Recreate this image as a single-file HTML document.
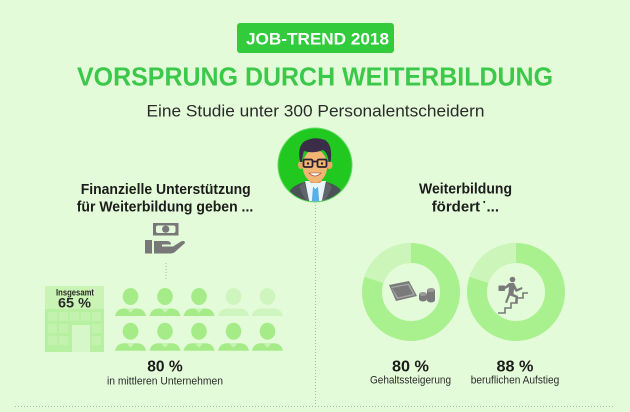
<!DOCTYPE html>
<html><head><meta charset="utf-8"><style>
html,body{margin:0;padding:0;background:#e4fbd9;}
svg{display:block;}
text{font-family:"Liberation Sans",sans-serif;}
</style></head><body>
<svg width="630" height="412" viewBox="0 0 630 412" xmlns="http://www.w3.org/2000/svg">
<rect width="630" height="412" fill="#e4fbd9"/>

<!-- Badge -->
<rect x="237" y="23" width="157" height="30" rx="3" fill="#31cb3c"/>
<text x="317.5" y="44.3" text-anchor="middle" font-size="16.5" font-weight="bold" fill="#ffffff" textLength="143" lengthAdjust="spacingAndGlyphs">JOB-TREND 2018</text>

<!-- Title -->
<text x="315" y="85.5" text-anchor="middle" font-size="25.5" font-weight="bold" fill="#3cc84a" textLength="476" lengthAdjust="spacingAndGlyphs">VORSPRUNG DURCH WEITERBILDUNG</text>

<!-- Subtitle -->
<text x="315.5" y="116.5" text-anchor="middle" font-size="17" fill="#2a2a2a" textLength="338" lengthAdjust="spacingAndGlyphs">Eine Studie unter 300 Personalentscheidern</text>

<!-- Dotted lines -->
<g stroke="#a3bfa0" stroke-width="1" stroke-dasharray="1 2" fill="none">
<line x1="315.5" y1="205" x2="315.5" y2="406"/>
<line x1="15" y1="406.5" x2="615" y2="406.5"/>
<line x1="166" y1="263" x2="166" y2="279"/>
</g>

<!-- Avatar -->
<defs><clipPath id="av"><circle cx="315" cy="165" r="36.5"/></clipPath></defs>
<circle cx="315" cy="165" r="37.5" fill="#5fdc5f"/>
<circle cx="315" cy="165" r="36.5" fill="#20c820"/>
<g clip-path="url(#av)">
<path d="M287 205 L290 191 Q292 186 304 182 L327 182 Q339 186 341 191 L344 205 Z" fill="#4b5157"/>
<path d="M304 182 L311 203 L307 203 L299 187 Z" fill="#5e666c"/>
<path d="M327 182 L320 203 L324 203 L332 187 Z" fill="#5e666c"/>
<polygon points="305,181 326,181 321,205 310,205" fill="#e9f5fb"/>
<polygon points="313,187 318,187 319.5,205 311.5,205" fill="#59aee8"/>
<rect x="309" y="175" width="13" height="8" fill="#dc9a5c"/>
<polygon points="309,181 315.5,187 322,181 322,183 315.5,189 309,183" fill="#e9f5fb"/>
<ellipse cx="301" cy="165" rx="3" ry="4" fill="#e9a866"/>
<ellipse cx="329.5" cy="165" rx="3" ry="4" fill="#e9a866"/>
<ellipse cx="315" cy="166" rx="12.3" ry="16.5" fill="#f2b574"/>
<path d="M300 162 Q297 146 305 141 Q315 136 325 140 Q333 145 330.5 162 L328.5 162 Q328 153 323 150 Q313 154 304 151 Q302.5 155 302 162 Z" fill="#3a2d48"/>
<g fill="none" stroke="#2a2230" stroke-width="1.8">
<rect x="303.5" y="159.5" width="9" height="7.5" rx="1.5"/>
<rect x="317.5" y="159.5" width="9" height="7.5" rx="1.5"/>
<line x1="312.5" y1="161.5" x2="317.5" y2="161.5"/>
</g>
<circle cx="308" cy="163.5" r="1.2" fill="#2a2230"/>
<circle cx="322" cy="163.5" r="1.2" fill="#2a2230"/>
<path d="M309 173 Q315 179 321 173 Z" fill="#ffffff" stroke="#8a4a30" stroke-width="0.6"/>
</g>

<!-- Left heading -->
<text x="165.7" y="194" text-anchor="middle" font-size="15" font-weight="bold" fill="#1c1c1c" textLength="170" lengthAdjust="spacingAndGlyphs">Finanzielle Unterstützung</text>
<text x="165" y="211.7" text-anchor="middle" font-size="15" font-weight="bold" fill="#1c1c1c" textLength="176.5" lengthAdjust="spacingAndGlyphs">für Weiterbildung geben ...</text>

<!-- Right heading -->
<text x="465.5" y="193.3" text-anchor="middle" font-size="15" font-weight="bold" fill="#1c1c1c" textLength="93" lengthAdjust="spacingAndGlyphs">Weiterbildung</text>
<text x="431.7" y="211.7" font-size="15" font-weight="bold" fill="#1c1c1c">fördert<tspan font-size="7" dy="-7" dx="3">•</tspan><tspan dy="7" dx="1">...</tspan></text>

<!-- Money hand icon -->
<g fill="#787878">
<rect x="153" y="223" width="25.5" height="12.5"/>
<rect x="156" y="225.5" width="19.5" height="7.5" rx="2" fill="#e4fbd9"/>
<circle cx="165.7" cy="229.2" r="3.6"/>
<rect x="145" y="240" width="7" height="13.5"/>
<path d="M154 241 L167 241 Q171 241 171 244.5 L162 244.5 L162 246.5 L173 246.5 L181 241.5 Q185 240 185 243 L176 251 Q174 253.5 170 253.5 L154 253.5 Z"/>
</g>

<!-- Building -->
<rect x="45" y="286" width="59" height="66" fill="#b8f0a2"/>
<rect x="45" y="286" width="59" height="23" fill="#c9f4b6"/>
<g fill="#c3f2ae">
<rect x="48" y="312" width="9" height="9"/><rect x="59" y="312" width="9" height="9"/><rect x="70" y="312" width="9" height="9"/><rect x="81" y="312" width="9" height="9"/><rect x="92" y="312" width="9" height="9"/>
<rect x="48" y="324" width="9" height="9"/><rect x="59" y="324" width="9" height="9"/><rect x="92" y="324" width="9" height="9"/>
<rect x="48" y="336" width="9" height="9"/><rect x="59" y="336" width="9" height="9"/><rect x="92" y="336" width="9" height="9"/>
</g>
<rect x="72" y="325" width="18" height="27" fill="#d6f8c8"/>
<text x="75" y="295.5" text-anchor="middle" font-size="9" font-weight="bold" fill="#2a2a2a" textLength="38" lengthAdjust="spacingAndGlyphs">Insgesamt</text>
<text x="74.5" y="307.5" text-anchor="middle" font-size="14" font-weight="bold" fill="#2a2a2a" textLength="33" lengthAdjust="spacingAndGlyphs">65 %</text>

<!-- People -->
<defs>
<g id="p">
<ellipse cx="0" cy="0" rx="7.8" ry="8.5"/>
<path d="M-15.5 19.5 Q-14 12.5 -7 12 L7 12 Q14 12.5 15.5 19.5 Z"/>
</g>
</defs>
<g fill="#a5ec88">
<use href="#p" x="130.5" y="296.5"/>
<use href="#p" x="165" y="296.5"/>
<use href="#p" x="199" y="296.5"/>
<use href="#p" x="130.5" y="331.3"/>
<use href="#p" x="165" y="331.3"/>
<use href="#p" x="199" y="331.3"/>
<use href="#p" x="233.5" y="331.3"/>
<use href="#p" x="267.5" y="331.3"/>
</g>
<g fill="#cff5bf">
<use href="#p" x="233.5" y="296.5"/>
<use href="#p" x="267.5" y="296.5"/>
</g>
<g fill="#c8f3b4">
<polygon points="126.5,308.5 134.5,308.5 130.5,313"/><polygon points="161,308.5 169,308.5 165,313"/><polygon points="195,308.5 203,308.5 199,313"/>
<polygon points="126.5,343.3 134.5,343.3 130.5,347.8"/><polygon points="161,343.3 169,343.3 165,347.8"/><polygon points="195,343.3 203,343.3 199,347.8"/><polygon points="229.5,343.3 237.5,343.3 233.5,347.8"/><polygon points="263.5,343.3 271.5,343.3 267.5,347.8"/>
</g>

<!-- Left labels -->
<text x="165" y="371.7" text-anchor="middle" font-size="15.5" font-weight="bold" fill="#1c1c1c" textLength="35.5" lengthAdjust="spacingAndGlyphs">80 %</text>
<text x="165" y="384.4" text-anchor="middle" font-size="11" fill="#2a2a2a" textLength="116" lengthAdjust="spacingAndGlyphs">in mittleren Unternehmen</text>

<!-- Donuts -->
<circle cx="411" cy="292" r="39" fill="none" stroke="#a9f08e" stroke-width="20"/>
<path d="M411 253 A39 39 0 0 0 373.9 279.95" fill="none" stroke="#ccf5ba" stroke-width="20"/>
<circle cx="516" cy="292" r="39" fill="none" stroke="#a9f08e" stroke-width="20"/>
<path d="M516 253 A39 39 0 0 0 478.9 279.95" fill="none" stroke="#ccf5ba" stroke-width="20"/>

<!-- Money icon -->
<g fill="#7a7a7a">
<polygon points="389,285 409,281 417,296 396,301"/>
<polygon points="391,287 409,283.5 415,295 397,299" fill="#a8a8a8"/>
<polygon points="392,288 408,285 413,294 398,297.5"/>
<ellipse cx="423" cy="299" rx="4" ry="2.5"/>
<rect x="419" y="294" width="8" height="5"/>
<ellipse cx="423" cy="294" rx="4" ry="2" fill="#9a9a9a"/>
<ellipse cx="431" cy="300" rx="4" ry="2.5"/>
<rect x="427" y="290" width="8" height="10"/>
<ellipse cx="431" cy="290" rx="4" ry="2" fill="#9a9a9a"/>
</g>

<!-- Stair icon -->
<polyline points="498,313 505,313 505,308 511,308 511,303 517,303 517,298 523,298 523,293 528,293" fill="none" stroke="#7a7a7a" stroke-width="1.6"/>
<g fill="#7a7a7a">
<circle cx="512.5" cy="279.5" r="2.8"/>
<path d="M509 283 L514 283 L517 289 L522 287 L522.5 289 L516 292 L514 289 L513.5 294 L518 296 L517 303 L515 303 L515.5 297.5 L510 295.5 L507 303 L505 302.5 L508.5 293 L509 287 L505 289 L504 287.5 Z"/>
<rect x="498.5" y="285.5" width="6.5" height="5.5" rx="0.8"/>
</g>

<!-- Right labels -->
<text x="410.5" y="371.7" text-anchor="middle" font-size="15.5" font-weight="bold" fill="#1c1c1c" textLength="37" lengthAdjust="spacingAndGlyphs">80 %</text>
<text x="410.5" y="383.5" text-anchor="middle" font-size="11" fill="#2a2a2a" textLength="81" lengthAdjust="spacingAndGlyphs">Gehaltssteigerung</text>
<text x="515" y="371.7" text-anchor="middle" font-size="15.5" font-weight="bold" fill="#1c1c1c" textLength="37" lengthAdjust="spacingAndGlyphs">88 %</text>
<text x="515" y="383.5" text-anchor="middle" font-size="11" fill="#2a2a2a" textLength="88.5" lengthAdjust="spacingAndGlyphs">beruflichen Aufstieg</text>
</svg>
</body></html>
